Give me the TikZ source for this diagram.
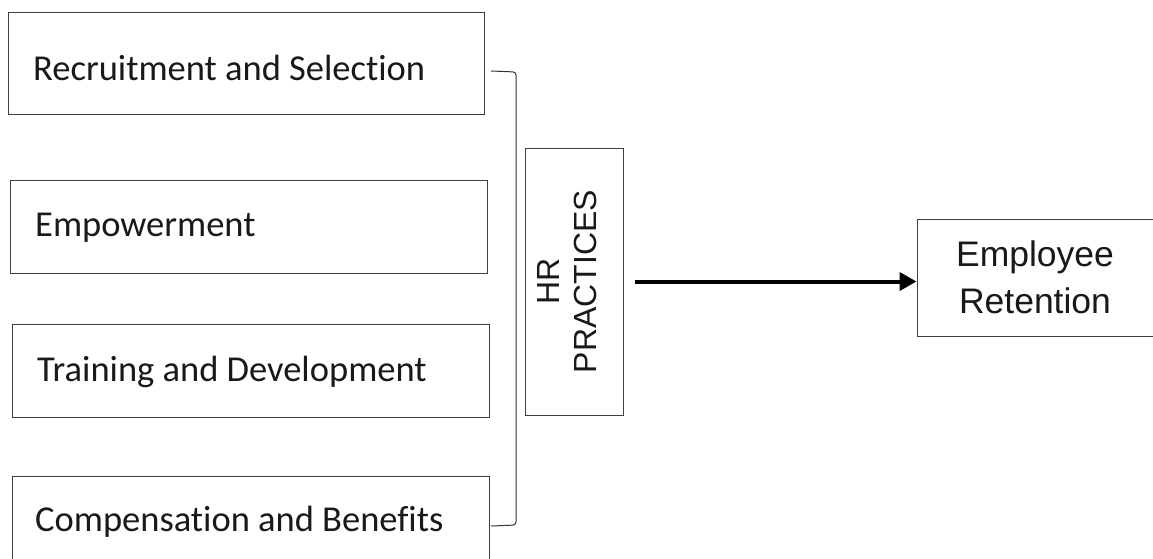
\documentclass[tikz,border=0pt]{standalone}
\usepackage{fontspec}
\setmainfont[Ligatures=NoCommon]{Carlito}
\newfontfamily\arialfont{Liberation Sans}
\usetikzlibrary{arrows.meta}

\begin{document}
\begin{tikzpicture}[x=1pt,y=-1pt,
  box/.style={draw=black!75, line width=1pt, rectangle, inner sep=0pt},
  itemtext/.style={anchor=base west, inner sep=0pt, text=black!90,
    font=\fontsize{36.5}{42}\selectfont},
  sidetext/.style={inner sep=0pt, align=center, text=black!90,
    font=\arialfont\fontsize{32}{37}\selectfont},
  bracket/.style={draw=black!80, line width=1pt, rounded corners=3pt},
  flow/.style={draw=black, line width=4pt,
    -{Triangle[length=17pt,width=18pt]}}]
\useasboundingbox (0,0) rectangle (1153,558);
\fill[white] (0,0) rectangle (1153,558);

% practice boxes on the left
\node[box, minimum width=476pt, minimum height=102pt] (rs) at (246,63) {};
\node[box, minimum width=477pt, minimum height=93pt] (em) at (248.5,226.5) {};
\node[box, minimum width=477pt, minimum height=93pt] (td) at (250.5,370.5) {};
\node[box, minimum width=477pt, minimum height=94pt] (cb) at (250.5,523) {};

\node[itemtext] (rst) at (33,80) {Recruitment and Selection};
\node[itemtext] (emt) at (35,236) {Empowerment};
\node[itemtext] (tdt) at (37,381) {Training and Development};
\node[itemtext] (cbt) at (35,531) {Compensation and Benefits};

% bracket grouping the practices
\coordinate (btop) at (491,71);
\coordinate (bbot) at (491,526);
\draw[bracket] (btop) -- (516,72) -- (516,525) -- (bbot);

% HR practices box
\node[box, minimum width=98pt, minimum height=267pt] (hr) at (574,281.5) {};
\node[sidetext, rotate=90] (hrt) at (567,281.5) {HR\\PRACTICES};

% outcome box
\node[box, minimum width=236pt, minimum height=117pt, align=center,
  font=\arialfont\fontsize{35.5}{47}\selectfont, text=black!90] (er) at (1035,277.5)
  {Employee\\Retention};

\draw[flow] ([xshift=11pt]hr.east) -- (hr.east -| er.west);
\end{tikzpicture}
\end{document}
